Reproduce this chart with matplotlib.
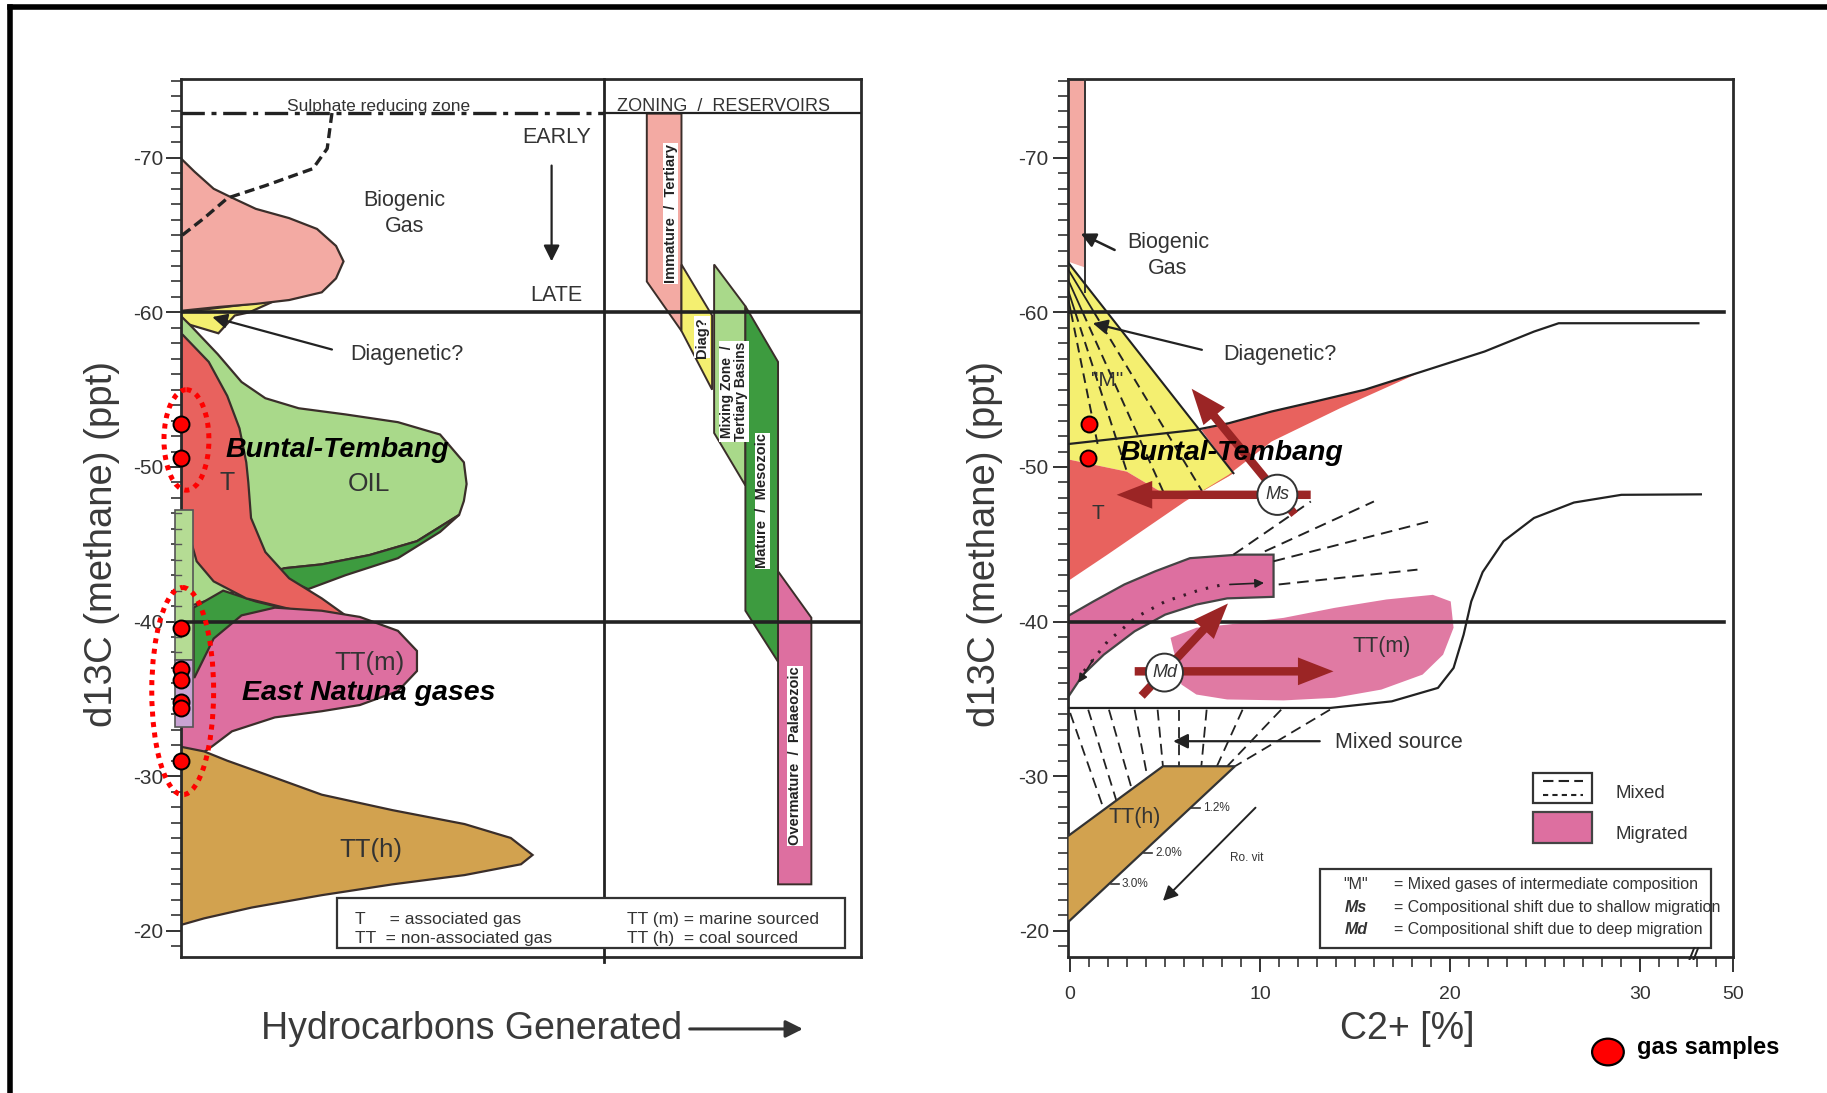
import matplotlib
matplotlib.use("Agg")
import matplotlib.pyplot as plt
from matplotlib.patches import Ellipse, Rectangle, FancyArrowPatch
from matplotlib.lines import Line2D
import numpy as np

plt.rcParams['font.family'] = ['Liberation Sans', 'DejaVu Sans']
plt.rcParams['axes.unicode_minus'] = False

# ------------------------------------------------------------------ data
# gas samples : d13C of methane (ppt) and C2+ (%)
buntal_tembang_d13c = [-52.8, -50.6]
buntal_tembang_c2 = [1.0, 0.95]
east_natuna_d13c = [-39.6, -36.95, -36.2, -34.8, -34.4, -31.0]

y_ticks = [-70, -60, -50, -40, -30, -20]
c2_ticks = [0, 10, 20, 30, 34.87]
c2_tick_labels = ['0', '10', '20', '30', '50']

# ---- left panel outlines : (relative generation 0-100, d13C)
biogenic_L = [(0, -69.96), (2.0, -69.1), (4.8, -68.0), (7.6, -67.4), (11.0, -66.7), (15.9, -66.1),
              (20.0, -65.4), (22.8, -64.3), (23.9, -63.3), (22.8, -62.2), (20.7, -61.3), (15.9, -60.8),
              (11.0, -60.55), (5.5, -60.35), (0.6, -60.13), (0, -60.1)]
sulphate_curve_L = [(0.2, -65.0), (3.4, -66.1), (6.85, -67.4), (12.4, -68.2), (19.4, -69.3),
                    (21.5, -70.6), (22.2, -72.9)]
diagenetic_L = [(0, -60.0), (13.8, -60.75), (10.0, -60.0), (7.9, -59.8), (5.5, -58.65), (1.3, -59.2), (0, -59.4)]
oil_L = [(0, -59.76), (1.3, -59.2), (5.4, -57.3), (8.9, -55.5), (12.4, -54.45), (17.3, -53.8), (24.2, -53.4),
         (31.9, -52.9), (38.1, -52.1), (41.6, -50.3), (42.0, -48.9), (41.6, -47.8), (40.9, -46.9),
         (34.7, -45.2), (27.7, -44.3), (20.7, -43.7), (15.2, -43.45), (10.5, -42.4), (6.3, -41.7),
         (2.0, -41.1), (0, -40.9)]
dkgreen_band_L = [(40.9, -46.9), (34.7, -45.2), (27.7, -44.3), (20.7, -43.7), (15.2, -43.45), (13.1, -43.2),
                  (18.7, -42.1), (24.2, -43.0), (31.9, -44.1), (38.1, -45.8)]
dkgreen_low_L = [(1.85, -40.9), (6.2, -42.0), (11.0, -41.3), (16.6, -40.7), (23.5, -40.3), (13.8, -40.4),
                 (8.9, -40.3), (5.5, -38.9), (2.7, -36.4), (1.85, -36.1)]
assoc_T_L = [(0, -58.55), (0.26, -58.55), (4.08, -56.8), (6.8, -54.6), (8.6, -52.5), (9.6, -50.3), (9.9, -49.0),
             (10.3, -46.7), (12.4, -44.5), (15.9, -42.8), (20.7, -41.5), (24.2, -40.4), (25.0, -40.2),
             (20.7, -40.3), (15.2, -40.9), (9.6, -41.5), (4.8, -42.6), (2.3, -43.9), (1.6, -45.0),
             (1.2, -46.2), (0, -47.3)]
tt_m_L = [(0, -36.4), (2.0, -36.4), (4.8, -38.9), (8.9, -40.4), (13.8, -40.9), (20.7, -40.7), (26.3, -40.3),
          (31.9, -39.4), (34.7, -38.1), (34.7, -36.8), (31.9, -35.5), (26.3, -34.6), (20.7, -34.2),
          (13.8, -33.8), (7.5, -32.9), (4.8, -32.0), (2.9, -31.4), (0, -31.6)]
tt_h_L = [(0, -31.9), (3.4, -31.6), (6.8, -31.0), (13.8, -29.9), (20.7, -28.8), (31.1, -27.8), (41.7, -26.9),
          (48.5, -26.0), (51.7, -24.9), (50.0, -24.3), (41.7, -23.6), (31.1, -23.0), (20.7, -22.3),
          (10.4, -21.5), (3.4, -20.8), (0.2, -20.4), (0, -20.4)]
immature_bar = [(68.5, -72.86), (73.6, -72.86), (73.6, -58.8), (68.5, -62.0)]
diag_bar = [(73.6, -63.1), (78.1, -59.8), (78.1, -55.0), (73.6, -58.8)]
mixing_bar = [(78.4, -63.1), (83.0, -60.4), (83.0, -48.8), (78.4, -52.2)]
mature_bar = [(83.0, -60.4), (87.8, -56.8), (87.8, -37.4), (83.0, -40.7)]
overmature_bar = [(87.8, -43.25), (92.7, -40.25), (92.7, -23.0), (87.8, -23.0)]

# ---- right panel outlines : (C2+ %, d13C)
biogenic_col_R = [(-0.14, -75.1), (0.8, -75.1), (0.8, -62.9), (-0.14, -63.3)]
mixed_M_R = [(-0.14, -63.28), (8.59, -49.6), (8.34, -49.4), (7.06, -48.5), (4.76, -48.4), (2.98, -49.7),
             (-0.14, -50.5)]
assoc_T_R = [(-0.14, -50.5), (2.98, -49.7), (4.76, -48.4), (7.06, -48.5), (8.34, -49.4), (8.59, -49.6),
             (6.9, -52.4), (8.34, -52.83), (10.6, -53.59), (12.9, -54.24), (15.5, -55.0), (18.5, -56.17),
             (14.2, -53.8), (10.6, -51.65), (8.34, -49.5), (6.04, -47.77), (4.0, -46.05), (1.96, -44.33),
             (-0.14, -42.6)]
upper_env_R = [(-0.14, -51.48), (6.6, -52.4), (8.34, -52.83), (10.6, -53.59), (12.9, -54.24), (15.5, -55.0),
               (18.5, -56.17), (21.8, -57.47), (24.4, -58.76), (25.7, -59.3), (33.05, -59.3)]
m_fan_start_R = [(-0.14, -61.13), (-0.14, -61.56), (-0.14, -62.2), (-0.14, -62.85)]
m_fan_end_R = [(1.45, -51.44), (2.98, -49.71), (4.89, -48.42), (6.93, -48.46)]
migrated_band_R = [(-0.14, -40.34), (1.22, -41.3), (2.85, -42.4), (4.47, -43.25), (6.3, -44.1), (8.84, -44.33),
                   (10.7, -44.33), (10.7, -41.6), (8.26, -41.5), (6.64, -41.1), (5.0, -40.45), (3.39, -39.37),
                   (1.77, -37.86), (0.68, -36.57), (-0.14, -35.06)]
band_dots_R = [(0.73, -36.8), (1.96, -38.7), (3.49, -40.3), (5.0, -41.3), (6.85, -42.06), (8.07, -42.4)]
band_dash_start_R = [(8.59, -44.33), (10.24, -44.54), (10.7, -43.9), (10.97, -42.4)]
band_dash_end_R = [(12.66, -47.77), (15.98, -47.77), (18.9, -46.48), (18.27, -43.36)]
tt_m_R = [(5.28, -38.95), (6.64, -39.6), (8.26, -39.8), (11.23, -40.24), (13.93, -40.89), (16.64, -41.43),
          (19.08, -41.73), (20.02, -41.3), (20.17, -39.6), (19.62, -37.86), (18.54, -36.57), (16.37, -35.6),
          (13.93, -35.07), (11.23, -34.9), (8.26, -34.96), (6.64, -35.28), (5.85, -35.93), (5.72, -37.0),
          (5.45, -38.08)]
lower_env_R = [(-0.14, -34.41), (13.67, -34.41), (16.92, -34.84), (19.35, -35.71), (20.17, -37.0),
               (20.7, -39.16), (21.1, -41.3), (21.7, -43.2), (22.8, -45.2), (24.4, -46.7), (26.5, -47.7),
               (29.0, -48.2), (33.18, -48.23)]
mixed_fan_top_R = [(0.0, -34.09), (0.95, -34.3), (2.04, -34.3), (3.39, -34.3), (4.6, -34.3), (5.72, -34.3),
                   (7.18, -34.3), (9.07, -34.3), (11.1, -34.3), (13.67, -34.3)]
mixed_fan_bot_R = [(1.77, -27.85), (2.44, -28.38), (3.25, -29.13), (4.07, -29.89), (4.88, -30.64),
                   (5.72, -30.64), (6.9, -30.64), (7.72, -30.64), (8.26, -30.64), (8.67, -30.64)]
tt_h_R = [(-0.14, -26.1), (4.88, -30.64), (8.67, -30.64), (-0.14, -20.52)]
ro_levels = ['1.2%', '2.0%', '3.0%']
ro_d13c = [-27.96, -25.04, -23.0]

# ------------------------------------------------------------------ style
TXT = '#333333'
EDGE = '#3a2e2a'
ARROW_RED = '#9b2525'
C_BIO = '#f3aaa3'
C_RED = '#e8625e'
C_LGREEN = '#a9d98a'
C_DGREEN = '#3d9b3f'
C_PINK = '#dd6fa0'
C_BROWN = '#d2a24f'
C_YEL = '#f4ef70'

fig = plt.figure(figsize=(18.27, 10.93), dpi=100)
axL = fig.add_axes([181 / 1827, 1 - 957 / 1093, 680 / 1827, 878 / 1093])
axR = fig.add_axes([1067.5 / 1827, 1 - 957 / 1093, 665.5 / 1827, 878 / 1093])


def fill(ax, pts, color, ec=EDGE, lw=1.6, z=2, clip=True):
    xs, ys = zip(*pts)
    ax.fill(xs, ys, facecolor=color, edgecolor=ec, lw=lw, zorder=z, clip_on=clip)


def line(ax, pts, **kw):
    xs, ys = zip(*pts)
    ax.plot(xs, ys, **kw)


def black_arrow(ax, tail, head, lw=1.5, ms=18):
    ax.annotate('', xy=head, xytext=tail,
                arrowprops=dict(arrowstyle='-|>', color='#222222', lw=lw, mutation_scale=ms,
                                shrinkA=0, shrinkB=0), zorder=7)


def red_arrow(ax, tail, head):
    ax.add_patch(FancyArrowPatch(tail, head,
                                 arrowstyle='simple,head_length=1.6,head_width=1.25,tail_width=0.38',
                                 mutation_scale=16, color=ARROW_RED, lw=0, zorder=7))


for ax in (axL, axR):
    ax.set_ylim(-18.3, -75.1)
    ax.set_yticks(y_ticks)
    ax.set_yticks(np.arange(-75, -18), minor=True)
    for s in ax.spines.values():
        s.set_linewidth(2)
        s.set_color('#2a2a2a')
    ax.tick_params(axis='y', which='major', direction='out', length=11, width=1.4,
                   labelsize=15, colors='#333333')
    ax.tick_params(axis='y', which='minor', direction='out', length=7, width=1.2, colors='#333333')

axL.tick_params(axis='y', which='major', pad=1.5)
axR.tick_params(axis='y', which='major', pad=2.5)

# ================================================================= LEFT PANEL
axL.set_xlim(0, 100)
axL.set_xticks([])

fill(axL, diagenetic_L, C_YEL, z=2)
fill(axL, biogenic_L, C_BIO, z=2.1)
fill(axL, oil_L, C_LGREEN, z=2.2)
fill(axL, dkgreen_band_L, C_DGREEN, z=2.3)
fill(axL, dkgreen_low_L, C_DGREEN, z=2.3)
fill(axL, assoc_T_L, C_RED, z=2.4)
fill(axL, tt_m_L, C_PINK, z=2.5)
fill(axL, tt_h_L, C_BROWN, z=2.5)

# depth strip on the axis
axL.add_patch(Rectangle((-0.95, -47.2), 2.75, 9.7, facecolor='#b5dc94', edgecolor='#555555', lw=1.2,
                        zorder=2.6, clip_on=False))
axL.add_patch(Rectangle((-0.95, -37.5), 2.75, 4.3, facecolor='#c9a3d3', edgecolor='#555555', lw=1.2,
                        zorder=2.6, clip_on=False))
for yv in np.arange(-47, -37):
    axL.plot([-0.95, 0], [yv, yv], color='#555555', lw=1.0, zorder=2.7, clip_on=False)

# zoning bars
fill(axL, immature_bar, C_BIO, lw=1.4)
fill(axL, diag_bar, C_YEL, lw=1.4)
fill(axL, mixing_bar, C_LGREEN, lw=1.4)
fill(axL, mature_bar, C_DGREEN, lw=1.4)
fill(axL, overmature_bar, C_PINK, lw=1.4)
bar_box = dict(facecolor='white', edgecolor='none', pad=0.6)
bar_txt = dict(rotation=90, fontsize=10.5, fontweight='bold', color='#222222', ha='center', va='center',
               zorder=6, bbox=bar_box)
axL.text(72.0, -66.4, 'Immature  /  Tertiary', **bar_txt)
axL.text(76.6, -58.4, 'Diag?', **bar_txt)
axL.text(81.3, -54.9, 'Mixing Zone  /\nTertiary Basins', rotation=90, fontsize=10, fontweight='bold',
         color='#222222', ha='center', va='center', linespacing=1.05, zorder=6, bbox=bar_box)
axL.text(85.5, -47.8, 'Mature  /  Mesozoic', **bar_txt)
axL.text(90.3, -31.3, 'Overmature  /  Palaeozoic', **bar_txt)

# reference lines
axL.axhline(-60, color='#222222', lw=2.6, zorder=4)
axL.axhline(-40, color='#222222', lw=2.6, zorder=4)
axL.plot([0, 62.2], [-72.9, -72.9], color='#222222', lw=2.4, ls=(0, (7, 2, 1.5, 2)), zorder=4)
axL.plot([62.2, 100], [-72.9, -72.9], color='#222222', lw=1.6, zorder=4)
axL.plot([62.2, 62.2], [-75.1, -18.0], color='#222222', lw=2, zorder=4, clip_on=False)
line(axL, sulphate_curve_L, color='#222222', lw=2.4, ls=(0, (3, 1.6)), zorder=4)

axL.text(29.1, -73.35, 'Sulphate reducing zone', fontsize=12.5, color=TXT, ha='center', va='center', zorder=5)
axL.text(79.8, -73.35, 'ZONING  /  RESERVOIRS', fontsize=13, color=TXT, ha='center', va='center', zorder=5)
axL.text(55.2, -71.3, 'EARLY', fontsize=15.5, color=TXT, ha='center', va='center')
black_arrow(axL, (54.5, -69.5), (54.5, -63.3), lw=1.6, ms=24)
axL.text(55.2, -61.1, 'LATE', fontsize=15.5, color=TXT, ha='center', va='center')
axL.text(32.9, -66.4, 'Biogenic\nGas', fontsize=15.5, color=TXT, ha='center', va='center', linespacing=1.3)
axL.text(24.9, -57.3, 'Diagenetic?', fontsize=15.5, color=TXT, ha='left', va='center')
black_arrow(axL, (22.2, -57.6), (4.6, -59.7), lw=1.6, ms=22)
axL.text(6.8, -48.95, 'T', fontsize=18, color=TXT, ha='center', va='center', zorder=6)
axL.text(27.7, -48.9, 'OIL', fontsize=19, color=TXT, ha='center', va='center', zorder=6)
axL.text(27.7, -37.3, 'TT(m)', fontsize=18.5, color=TXT, ha='center', va='center', zorder=6)
axL.text(27.9, -25.25, 'TT(h)', fontsize=18.5, color=TXT, ha='center', va='center', zorder=6)

# legend box
axL.add_patch(Rectangle((22.9, -22.1), 74.7, 3.2, facecolor='white', edgecolor='#333333', lw=1.6, zorder=5))
leg = dict(fontsize=12.5, color=TXT, ha='left', va='center', zorder=6)
axL.text(25.6, -20.75, 'T     = associated gas', **leg)
axL.text(25.6, -19.5, 'TT  = non-associated gas', **leg)
axL.text(65.6, -20.75, 'TT (m) = marine sourced', **leg)
axL.text(65.6, -19.5, 'TT (h)  = coal sourced', **leg)

# gas samples
axL.plot(np.zeros(len(buntal_tembang_d13c)), buntal_tembang_d13c, 'o', ms=11.5, mfc='#ff0000',
         mec='black', mew=1.4, zorder=9, clip_on=False)
axL.plot(np.zeros(len(east_natuna_d13c)), east_natuna_d13c, 'o', ms=11.5, mfc='#ff0000',
         mec='black', mew=1.4, zorder=9, clip_on=False)
axL.add_patch(Ellipse((0.8, -51.75), 6.6, 6.5, fill=False, ec='#ff0000', lw=3.6, ls=(0, (1, 1.1)),
                      zorder=8, clip_on=False))
axL.add_patch(Ellipse((0.25, -35.5), 9.1, 13.4, fill=False, ec='#ff0000', lw=3.6, ls=(0, (1, 1.1)),
                      zorder=8, clip_on=False))
bt = dict(fontsize=20.5, fontweight='bold', style='italic', color='black', ha='left', va='center', zorder=9)
axL.text(6.5, -51.1, 'Buntal-Tembang', **bt)
axL.text(8.9, -35.4, 'East Natuna gases', **bt)

# ================================================================= RIGHT PANEL
axR.set_xlim(-0.14, 34.87)
axR.set_xticks(c2_ticks)
axR.set_xticklabels(c2_tick_labels)
axR.set_xticks([v for v in range(1, 35) if v % 10 != 0], minor=True)
axR.tick_params(axis='x', which='major', direction='out', length=11, width=1.4, pad=10,
                labelsize=14, colors='#333333')
axR.tick_params(axis='x', which='minor', direction='out', length=7, width=1.2, colors='#333333')

fill(axR, biogenic_col_R, C_BIO, ec='none', lw=0, z=2)
axR.plot([0.8, 0.8], [-75.1, -61.3], color='#333333', lw=1.4, zorder=3)
fill(axR, mixed_M_R, C_YEL, ec='none', lw=0, z=2.1)
fill(axR, assoc_T_R, C_RED, ec='none', lw=0, z=2.2)
line(axR, [mixed_M_R[0], mixed_M_R[1]], color='#222222', lw=1.5, zorder=4)
for (x0, y0), (x1, y1) in zip(m_fan_start_R, m_fan_end_R):
    t = (-60 - y0) / (y1 - y0)
    xm = x0 + t * (x1 - x0)
    axR.plot([x0, xm], [y0, -60], color='#222222', lw=1.3, zorder=4)
    axR.plot([xm, x1], [-60, y1], color='#222222', lw=1.4, ls=(0, (5, 3)), zorder=4)
line(axR, upper_env_R, color='#222222', lw=1.6, zorder=4)

fill(axR, migrated_band_R, C_PINK, ec='#444444', lw=1.6, z=2.3)
line(axR, band_dots_R, color='#3a1a2a', lw=2.2, ls=(0, (0.8, 3)), zorder=4)
black_arrow(axR, (8.4, -42.4), (10.2, -42.5), lw=1.2, ms=13)
black_arrow(axR, (1.22, -37.55), (0.43, -36.04), lw=1.2, ms=13)
for (x0, y0), (x1, y1) in zip(band_dash_start_R, band_dash_end_R):
    axR.plot([x0, x1], [y0, y1], color='#222222', lw=1.4, ls=(0, (6, 3.5)), zorder=4)
fill(axR, tt_m_R, '#e07aa3', ec='none', lw=0, z=2.3)
line(axR, lower_env_R, color='#222222', lw=1.6, zorder=4)

for (x0, y0), (x1, y1) in zip(mixed_fan_top_R, mixed_fan_bot_R):
    axR.plot([x0, x1], [y0, y1], color='#222222', lw=1.3, ls=(0, (6, 3.5)), zorder=3)
fill(axR, tt_h_R, C_BROWN, ec='#333333', lw=1.6, z=3.5)

axR.axhline(-60, xmax=0.986, color='#222222', lw=2.6, zorder=4.5)
axR.axhline(-40, xmax=0.986, color='#222222', lw=2.6, zorder=4.5)

# migration arrows
red_arrow(axR, (12.8, -48.2), (2.3, -48.2))
red_arrow(axR, (11.9, -46.8), (6.3, -55.2))
red_arrow(axR, (3.25, -36.78), (14.0, -36.78))
red_arrow(axR, (3.66, -35.06), (8.4, -41.3))
axR.add_patch(Ellipse((10.9, -48.2), 2.1, 2.6, facecolor='white', edgecolor='#333333', lw=1.4, zorder=8))
axR.text(10.9, -48.2, 'Ms', fontsize=13, style='italic', color=TXT, ha='center', va='center', zorder=9)
axR.add_patch(Ellipse((4.96, -36.7), 1.95, 2.45, facecolor='white', edgecolor='#333333', lw=1.4, zorder=8))
axR.text(4.96, -36.7, 'Md', fontsize=13, style='italic', color=TXT, ha='center', va='center', zorder=9)

axR.text(5.15, -63.7, 'Biogenic\nGas', fontsize=15.5, color=TXT, ha='center', va='center', linespacing=1.3)
black_arrow(axR, (2.34, -64.04), (0.56, -65.1), lw=1.8, ms=22)
axR.text(8.07, -57.25, 'Diagenetic?', fontsize=15.5, color=TXT, ha='left', va='center')
black_arrow(axR, (6.93, -57.58), (1.19, -59.3), lw=1.6, ms=22)
axR.text(1.96, -55.6, '"M"', fontsize=15, color=TXT, ha='center', va='center', zorder=6)
axR.text(1.47, -46.96, 'T', fontsize=15, color=TXT, ha='center', va='center', zorder=6)
axR.text(16.37, -38.36, 'TT(m)', fontsize=15.5, color=TXT, ha='center', va='center', zorder=6)
axR.text(3.39, -27.3, 'TT(h)', fontsize=15.5, color=TXT, ha='center', va='center', zorder=6)
axR.text(13.94, -32.15, 'Mixed source', fontsize=15.5, color=TXT, ha='left', va='center')
black_arrow(axR, (13.13, -32.26), (5.42, -32.26), lw=1.6, ms=22)

# vitrinite reflectance marks
for lab, yv in zip(ro_levels, ro_d13c):
    xe = 8.67 * (-20.52 - yv) / (-20.52 + 30.64)
    axR.plot([xe, xe + 0.45], [yv, yv], color='#333333', lw=1.2, zorder=5)
    axR.text(xe + 0.6, yv, lab, fontsize=8.5, color=TXT, ha='left', va='center', zorder=5)
black_arrow(axR, (9.75, -27.96), (4.88, -21.93), lw=1.4, ms=22)
axR.text(9.29, -24.7, 'Ro. vit', fontsize=8.5, color=TXT, ha='center', va='center')

# Mixed / Migrated key
axR.add_patch(Rectangle((24.36, -30.2), 3.11, 1.92, facecolor='white', edgecolor='#333333', lw=1.6, zorder=5))
axR.plot([24.9, 27.0], [-29.7, -29.7], color='#222222', lw=1.5, ls=(0, (5, 2.5)), zorder=6)
axR.plot([24.9, 27.0], [-28.75, -28.75], color='#222222', lw=1.5, ls=(0, (2.5, 2)), zorder=6)
axR.add_patch(Rectangle((24.36, -27.65), 3.11, 1.95, facecolor=C_PINK, edgecolor='#444444', lw=1.6, zorder=5))
axR.text(28.69, -28.9, 'Mixed', fontsize=13.5, color=TXT, ha='left', va='center')
axR.text(28.69, -26.23, 'Migrated', fontsize=13.5, color=TXT, ha='left', va='center')

# abbreviation key
axR.add_patch(Rectangle((13.13, -23.97), 20.57, 5.07, facecolor='white', edgecolor='#333333', lw=1.6, zorder=5))
kfs = 11.5
axR.text(15.03, -23.0, '"M"', fontsize=kfs, color=TXT, ha='center', va='center', zorder=6)
axR.text(15.03, -21.48, 'Ms', fontsize=kfs, fontweight='bold', style='italic', color=TXT, ha='center',
         va='center', zorder=6)
axR.text(15.03, -20.09, 'Md', fontsize=kfs, fontweight='bold', style='italic', color=TXT, ha='center',
         va='center', zorder=6)
axR.text(17.05, -23.0, '= Mixed gases of intermediate composition', fontsize=kfs, color=TXT, ha='left',
         va='center', zorder=6)
axR.text(17.05, -21.48, '= Compositional shift due to shallow migration', fontsize=kfs, color=TXT,
         ha='left', va='center', zorder=6)
axR.text(17.05, -20.09, '= Compositional shift due to deep migration', fontsize=kfs, color=TXT,
         ha='left', va='center', zorder=6)
axR.text(32.8, -18.4, '//', fontsize=13, fontweight='bold', style='italic', color='#222222', ha='center',
         va='center', zorder=7, clip_on=False)

# gas samples (right)
axR.plot(buntal_tembang_c2, buntal_tembang_d13c, 'o', ms=11.5, mfc='#ff0000', mec='black', mew=1.4, zorder=9)
axR.text(2.6, -50.9, 'Buntal-Tembang', **bt)

# ================================================================= figure-level text
fig.text(0.0561, 0.5027, 'd13C (methane) (ppt)', rotation=90, fontsize=27.5, color='#3a3a3a',
         ha='center', va='center')
fig.text(0.539, 0.5027, 'd13C (methane) (ppt)', rotation=90, fontsize=27.5, color='#3a3a3a',
         ha='center', va='center')
fig.text(0.258, 0.0586, 'Hydrocarbons Generated', fontsize=27, color='#3a3a3a', ha='center', va='center')
fig.add_artist(FancyArrowPatch((0.376, 0.0586), (0.441, 0.0586), transform=fig.transFigure,
                               arrowstyle='-|>', mutation_scale=26, lw=2.2, color='#333333'))
fig.text(0.7704, 0.0586, 'C2+ [%]', fontsize=27, color='#3a3a3a', ha='center', va='center')

fig.add_artist(Ellipse((0.8801, 0.0375), 31.7 / 1827, 26.7 / 1093, transform=fig.transFigure,
                       facecolor='#ff0000', edgecolor='black', lw=1.6))
fig.text(0.896, 0.042, 'gas samples', fontsize=17, fontweight='bold', color='black', ha='left', va='center')

# outer frame (top and left edges)
fig.add_artist(Line2D([10 / 1827, 10 / 1827], [0, 1 - 7 / 1093], transform=fig.transFigure, color='black', lw=4))
fig.add_artist(Line2D([10 / 1827, 1], [1 - 7 / 1093, 1 - 7 / 1093], transform=fig.transFigure, color='black', lw=4))

fig.savefig('out.png', dpi=100)
